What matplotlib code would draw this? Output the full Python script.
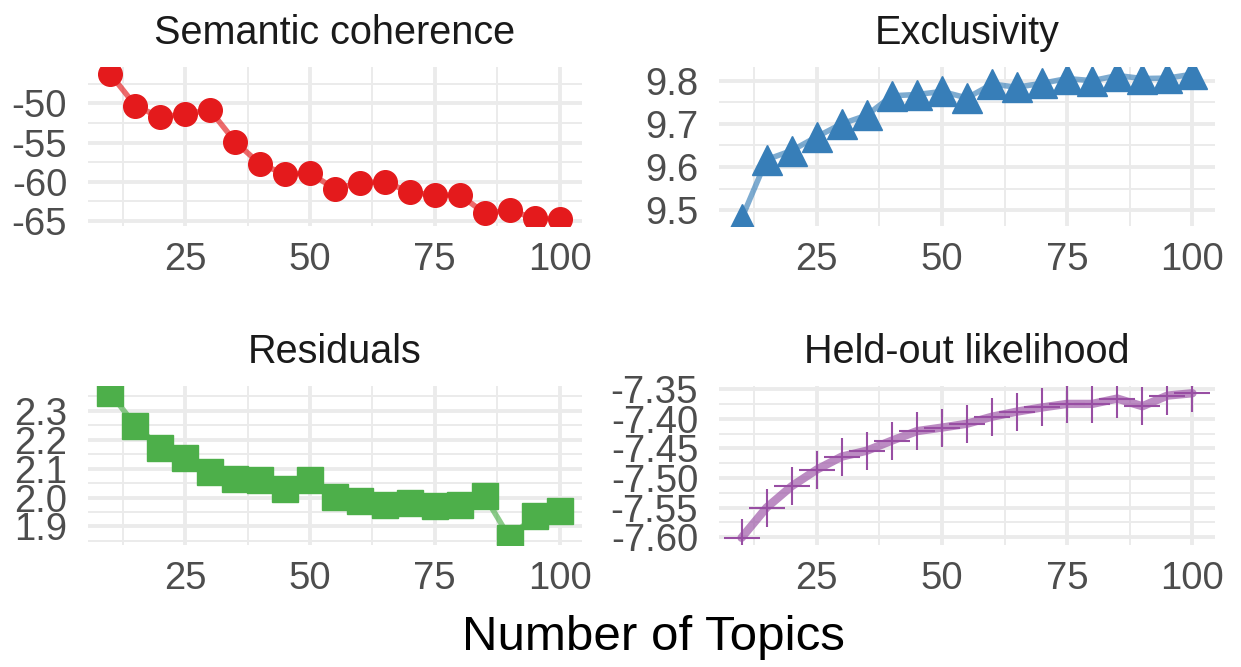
import matplotlib
matplotlib.use("Agg")
import matplotlib.pyplot as plt

plt.rcParams['font.family'] = ['Liberation Sans', 'DejaVu Sans']

# ---------------- data ----------------
topics = [10, 15, 20, 25, 30, 35, 40, 45, 50, 55, 60, 65, 70, 75, 80, 85, 90, 95, 100]

coherence = [-46.3, -50.3, -51.8, -51.3, -50.9, -54.9, -57.75, -59.0, -58.9, -60.9,
             -60.1, -60.0, -61.3, -61.7, -61.65, -64.0, -63.6, -64.65, -64.7]

exclusivity = [9.480, 9.617, 9.638, 9.670, 9.700, 9.720, 9.765, 9.768, 9.775, 9.760,
               9.792, 9.785, 9.794, 9.805, 9.800, 9.812, 9.805, 9.806, 9.815]

residuals = [2.361, 2.249, 2.173, 2.137, 2.087, 2.066, 2.062, 2.029, 2.060, 2.001,
             1.988, 1.974, 1.982, 1.970, 1.973, 2.005, 1.861, 1.937, 1.953]

heldout = [-7.601, -7.550, -7.514, -7.486, -7.464, -7.454, -7.437, -7.421, -7.415, -7.4085,
           -7.3966, -7.388, -7.381, -7.375, -7.375, -7.366, -7.379, -7.361, -7.357]
heldout_err = [0.031, 0.032, 0.032, 0.032, 0.032, 0.032, 0.032, 0.032, 0.032, 0.032,
               0.032, 0.032, 0.032, 0.032, 0.032, 0.032, 0.032, 0.032, 0.032]

x_ticks = [25, 50, 75, 100]
x_tick_labels = ['25', '50', '75', '100']
x_minor = [12.5, 37.5, 62.5, 87.5]

coh_ticks = [-50, -55, -60, -65]
coh_labels = ['-50', '-55', '-60', '-65']
coh_minor = [-47.5, -52.5, -57.5, -62.5]

exc_ticks = [9.5, 9.6, 9.7, 9.8]
exc_labels = ['9.5', '9.6', '9.7', '9.8']
exc_minor = [9.55, 9.65, 9.75]

res_ticks = [1.9, 2.0, 2.1, 2.2, 2.3]
res_labels = ['1.9', '2.0', '2.1', '2.2', '2.3']
res_minor = [1.85, 1.95, 2.05, 2.15, 2.25, 2.35]

ho_ticks = [-7.60, -7.55, -7.50, -7.45, -7.40, -7.35]
ho_labels = ['-7.60', '-7.55', '-7.50', '-7.45', '-7.40', '-7.35']
ho_minor = [-7.575, -7.525, -7.475, -7.425, -7.375]

titles = ['Semantic coherence', 'Exclusivity', 'Residuals', 'Held-out likelihood']
xlabel = 'Number of Topics'

RED, BLUE, GREEN, PURPLE = '#E41A1C', '#377EB8', '#4DAF4A', '#984EA3'

# ---------------- layout ----------------
W, H = 1241, 667
fig = plt.figure(figsize=(W / 100, H / 100), dpi=100)


def add_panel(l, r, t, b):
    return fig.add_axes([l / W, 1 - b / H, (r - l) / W, (b - t) / H])


def expand(vals, frac=0.05):
    lo, hi = min(vals), max(vals)
    p = (hi - lo) * frac
    return lo - p, hi + p


def style(ax, yt, yl, ym, title, ylim):
    for s in ax.spines.values():
        s.set_visible(False)
    ax.set_xlim(expand(topics))
    ax.set_ylim(ylim)
    ax.set_xticks(x_ticks)
    ax.set_xticklabels(x_tick_labels)
    ax.set_xticks(x_minor, minor=True)
    ax.set_yticks(yt)
    ax.set_yticklabels(yl)
    ax.set_yticks(ym, minor=True)
    ax.tick_params(which='both', length=0)
    ax.tick_params(axis='x', labelsize=27.5, labelcolor='#4D4D4D', pad=11.5)
    ax.tick_params(axis='y', labelsize=27.5, labelcolor='#4D4D4D', pad=15)
    ax.grid(which='major', color='#EBEBEB', linewidth=2.8)
    ax.grid(which='minor', color='#EBEBEB', linewidth=1.4)
    ax.set_axisbelow(True)
    ax.set_title(title, fontsize=28.5, color='#1A1A1A', pad=16.5)


ax1 = add_panel(88, 582, 67, 226)
ax2 = add_panel(719, 1215, 67, 226)
ax3 = add_panel(88, 582, 386, 545)
ax4 = add_panel(719, 1215, 386, 545)

# Semantic coherence
ax1.plot(topics, coherence, color=RED, alpha=0.65, linewidth=4.0, zorder=2)
ax1.plot(topics, coherence, linestyle='none', marker='o', markersize=17, color=RED, zorder=3)
style(ax1, coh_ticks, coh_labels, coh_minor, titles[0], expand(coherence))

# Exclusivity
ax2.plot(topics, exclusivity, color=BLUE, alpha=0.65, linewidth=4.0, zorder=2)
ax2.plot(topics, exclusivity, linestyle='none', marker='^', markersize=22, color=BLUE, zorder=3)
style(ax2, exc_ticks, exc_labels, exc_minor, titles[1], expand(exclusivity))

# Residuals
ax3.plot(topics, residuals, color=GREEN, alpha=0.65, linewidth=4.0, zorder=2)
ax3.plot(topics, residuals, linestyle='none', marker='s', markersize=18.5, color=GREEN, zorder=3)
style(ax3, res_ticks, res_labels, res_minor, titles[2], expand(residuals))

# Held-out likelihood
ax4.plot(topics, heldout, color=PURPLE, alpha=0.65, linewidth=6.0, solid_capstyle='round', zorder=2)
ax4.errorbar(topics, heldout, yerr=heldout_err, fmt='none', ecolor=PURPLE, elinewidth=1.5,
             capsize=0, zorder=3)
ax4.plot(topics, heldout, linestyle='none', marker='_', markersize=26, markeredgewidth=1.5,
         color=PURPLE, zorder=3)
style(ax4, ho_ticks, ho_labels, ho_minor, titles[3], expand(heldout))

fig.text(653 / W, 17 / H, xlabel, ha='center', va='baseline', fontsize=35.5, color='black')

fig.savefig('out.png', dpi=100, facecolor='white')
